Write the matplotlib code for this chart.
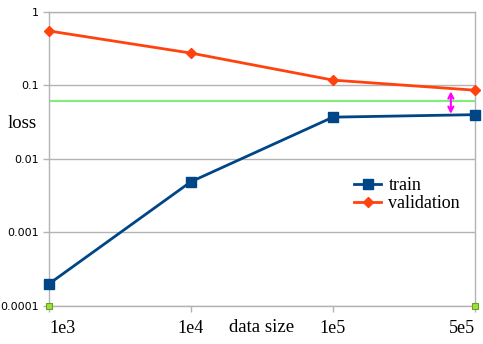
import matplotlib
matplotlib.use("Agg")
import matplotlib.pyplot as plt

# loss vs training set size
sizes = ["1e3", "1e4", "1e5", "5e5"]
train = [0.0002, 0.0049, 0.037, 0.040]
validation = [0.55, 0.275, 0.118, 0.086]
target = 0.061          # green reference line
gap_x = 2.83            # where the magenta arrow sits
gap = (0.083, 0.041)
yticks = [0.0001, 0.001, 0.01, 0.1, 1]
ytick_labels = ["0.0001", "0.001", "0.01", "0.1", "1"]

serif = "Liberation Serif"
grey = "#b3b3b3"

fig = plt.figure(figsize=(4.83, 3.44), dpi=100)
ax = fig.add_axes([0.1014, 0.1105, 0.882, 0.855])

x = list(range(len(sizes)))
ax.axhline(target, color="#7ef07a", lw=1.5, zorder=2)
ax.plot(x, train, color="#004586", lw=2, marker="s", ms=7, label="train",
        zorder=4, clip_on=False)
ax.plot(x, validation, color="#ff420e", lw=2, marker="D", ms=5, label="validation",
        zorder=4, clip_on=False)
ax.annotate("", xy=(gap_x, gap[0]), xytext=(gap_x, gap[1]),
            arrowprops=dict(arrowstyle="<->", color="#ff00ff", lw=1.5,
                            mutation_scale=9, shrinkA=0, shrinkB=0))
# little green markers at the bottom corners
ax.plot([x[0], x[-1]], [0.0001, 0.0001], ls="none", marker="s", ms=5,
        mfc="#9ee03a", mec="#6aa020", mew=0.8, clip_on=False, zorder=5)

ax.set_yscale("log")
ax.set_ylim(0.0001, 1)
ax.set_xlim(0, 3)
ax.set_yticks(yticks)
ax.set_yticklabels(ytick_labels, fontsize=8, family="DejaVu Sans")
ax.minorticks_off()
ax.set_xticks(x)
ax.set_xticklabels(sizes, fontsize=13, family=serif)
labels = ax.get_xticklabels()
labels[0].set_ha("left")
labels[-1].set_ha("right")
ax.tick_params(axis="both", color=grey, length=4, width=1)
ax.tick_params(axis="x", pad=6)
ax.grid(axis="y", color=grey, lw=1)
for s in ax.spines.values():
    s.set_color(grey)
    s.set_linewidth(1)

fig.text(8 / 483, 1 - 123 / 344, "loss", fontsize=13.5, family=serif, va="center")
fig.text(262 / 483, 1 - 327 / 344, "data size", fontsize=13.5, family=serif,
         va="center", ha="center")

ax.legend(loc="upper left", bbox_to_anchor=(345 / 483, 1 - 168 / 344),
          bbox_transform=fig.transFigure, frameon=False,
          prop={"family": serif, "size": 13}, handlelength=1.5,
          handletextpad=0.4, labelspacing=0.05, borderpad=0)

fig.savefig("out.png", dpi=100)
